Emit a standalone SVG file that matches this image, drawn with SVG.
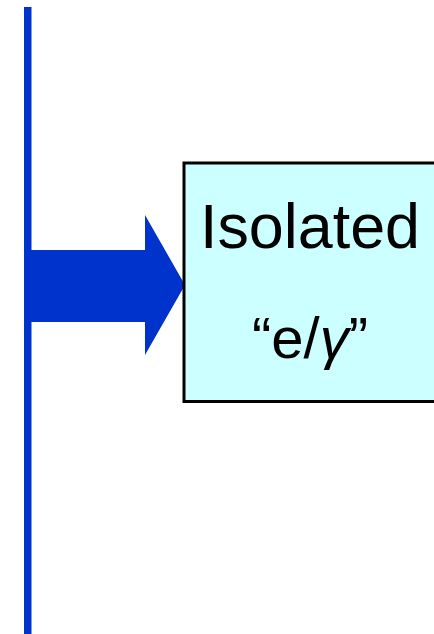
<svg xmlns="http://www.w3.org/2000/svg" width="434" height="634" viewBox="0 0 434 634">
<style>
.blue{fill:#0033cc}
.t{font-family:"Liberation Sans",Arial,sans-serif;fill:#000}
</style>
<rect width="434" height="634" fill="#ffffff"/>
<g id="connectors">
<rect class="blue" x="24" y="7" width="7.5" height="627"/>
<polygon id="arrow" class="blue" points="31,250 145,250 145,215 185,285 145,355 145,322 31,322"/>
</g>
<g id="node-isolated">
<rect x="184" y="163" width="260" height="238.5" fill="#ccffff" stroke="#000" stroke-width="3"/>
<text class="t" x="200" y="248" font-size="63" textLength="220" lengthAdjust="spacingAndGlyphs">Isolated</text>
<text class="t" x="252" y="358" font-size="58">“e/<tspan font-style="italic">γ</tspan>”</text>
</g>
</svg>
